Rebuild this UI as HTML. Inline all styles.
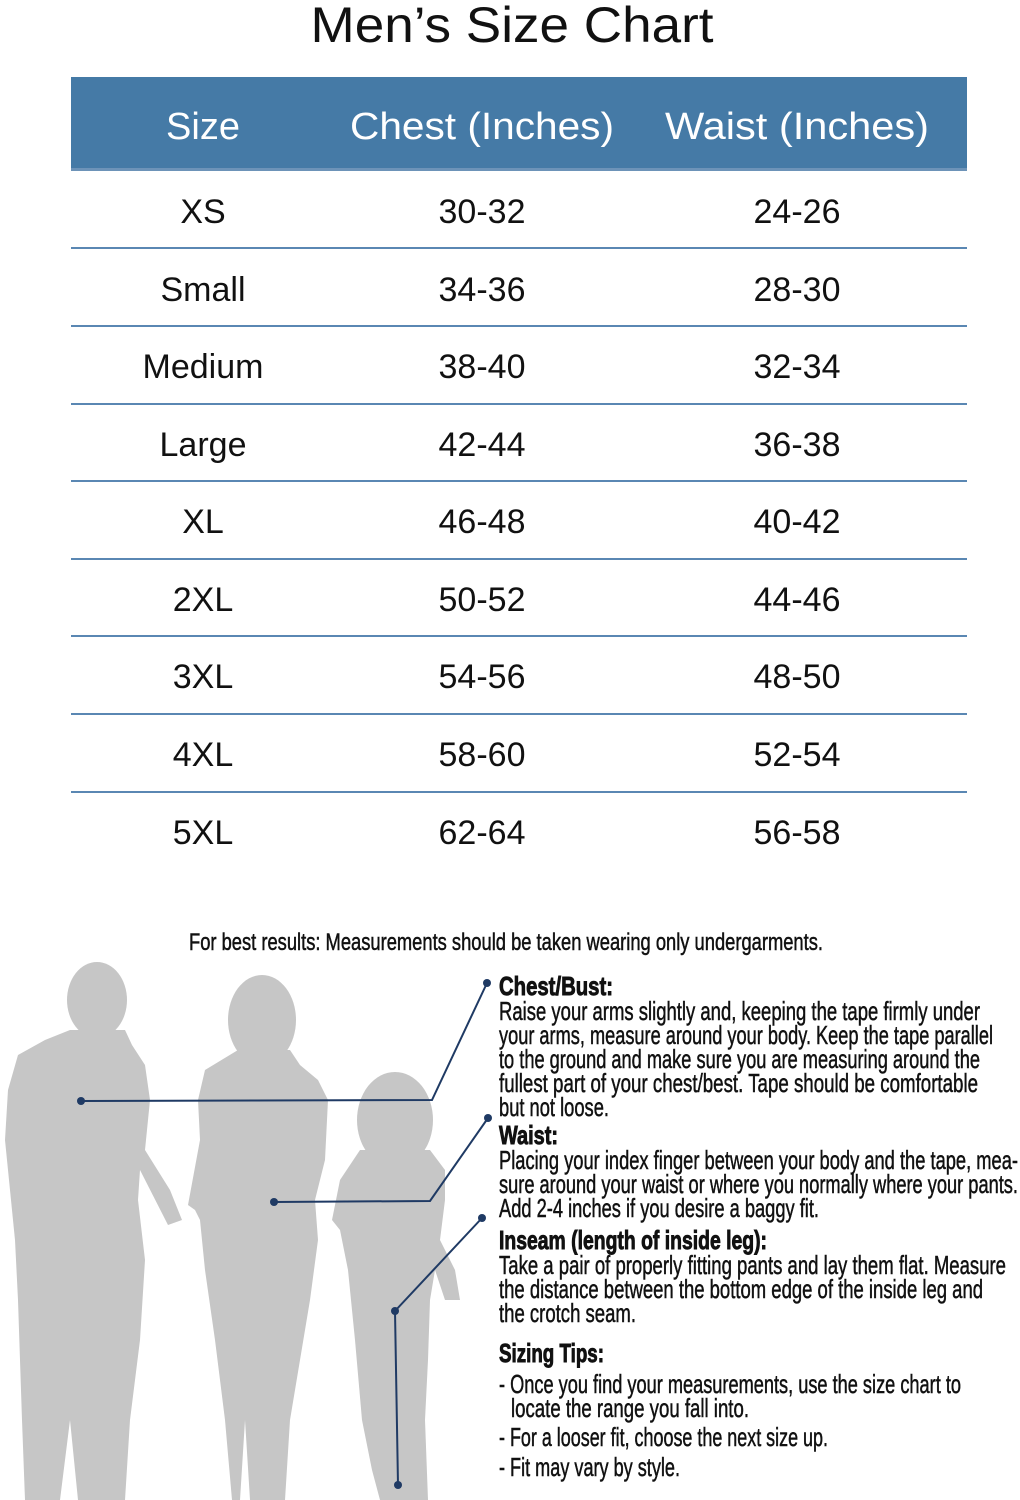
<!DOCTYPE html>
<html><head><meta charset="utf-8"><style>
html,body{margin:0;padding:0;background:#fff;}
svg{display:block}
.t{font-family:"Liberation Sans",sans-serif;fill:#111;font-size:34px;text-anchor:middle}
.h{fill:#fff;font-size:38px}
.n{font-family:"Liberation Sans Narrow","Liberation Sans",sans-serif;fill:#111;font-size:26px;stroke:#111;stroke-width:0.5}
.b{font-weight:bold;stroke-width:0.9}
</style></head><body>
<svg width="1020" height="1500" viewBox="0 0 1020 1500" xmlns="http://www.w3.org/2000/svg">
<text x="512" y="42" class="t" style="font-size:50px" textLength="403" lengthAdjust="spacingAndGlyphs">Men’s Size Chart</text>
<rect x="71" y="77" width="896" height="93" fill="#457aa6"/>
<rect x="71" y="168" width="896" height="3" fill="#6d93b8"/>
<text x="203" y="139" class="t h">Size</text>
<text x="482" y="139" class="t h" textLength="264" lengthAdjust="spacingAndGlyphs">Chest (Inches)</text>
<text x="797" y="139" class="t h" textLength="264" lengthAdjust="spacingAndGlyphs">Waist (Inches)</text>
<g fill="#5a87b3">
<rect x="71" y="247" width="896" height="2"/><rect x="71" y="325" width="896" height="2"/>
<rect x="71" y="403" width="896" height="2"/><rect x="71" y="480" width="896" height="2"/>
<rect x="71" y="558" width="896" height="2"/><rect x="71" y="635" width="896" height="2"/>
<rect x="71" y="713" width="896" height="2"/><rect x="71" y="791" width="896" height="2"/>
</g>
<g class="t">
<text x="203" y="223" class="t">XS</text><text x="482" y="223" class="t">30-32</text><text x="797" y="223" class="t">24-26</text>
<text x="203" y="301" class="t">Small</text><text x="482" y="301" class="t">34-36</text><text x="797" y="301" class="t">28-30</text>
<text x="203" y="378" class="t">Medium</text><text x="482" y="378" class="t">38-40</text><text x="797" y="378" class="t">32-34</text>
<text x="203" y="456" class="t">Large</text><text x="482" y="456" class="t">42-44</text><text x="797" y="456" class="t">36-38</text>
<text x="203" y="533" class="t">XL</text><text x="482" y="533" class="t">46-48</text><text x="797" y="533" class="t">40-42</text>
<text x="203" y="611" class="t">2XL</text><text x="482" y="611" class="t">50-52</text><text x="797" y="611" class="t">44-46</text>
<text x="203" y="688" class="t">3XL</text><text x="482" y="688" class="t">54-56</text><text x="797" y="688" class="t">48-50</text>
<text x="203" y="766" class="t">4XL</text><text x="482" y="766" class="t">58-60</text><text x="797" y="766" class="t">52-54</text>
<text x="203" y="844" class="t">5XL</text><text x="482" y="844" class="t">62-64</text><text x="797" y="844" class="t">56-58</text>
</g>
<g fill="#c6c6c6">
<ellipse cx="97" cy="1000" rx="30" ry="38"/>
<path d="M70 1030 L125 1030 L132 1045 L145 1065 L150 1100 L145 1150 L170 1190 L182 1220 L168 1225 L140 1170 L138 1200 L145 1260 L140 1340 L130 1420 L125 1500 L78 1500 L70 1420 L60 1500 L25 1500 L22 1420 L18 1300 L15 1240 L5 1140 L8 1090 L18 1055 L45 1040 Z"/>
<ellipse cx="262" cy="1020" rx="34" ry="45"/>
<path d="M238 1050 L290 1050 L300 1065 L318 1080 L328 1100 L325 1160 L315 1200 L318 1240 L310 1300 L300 1360 L290 1420 L285 1500 L250 1500 L245 1420 L240 1500 L232 1500 L225 1420 L215 1340 L205 1270 L200 1220 L195 1210 L188 1205 L200 1140 L198 1100 L205 1070 Z"/>
<ellipse cx="395" cy="1120" rx="38" ry="48"/>
<path d="M360 1150 L430 1150 L445 1170 L445 1200 L440 1240 L455 1270 L460 1300 L445 1300 L435 1270 L430 1300 L428 1360 L425 1420 L428 1500 L380 1500 L372 1470 L362 1420 L355 1340 L348 1270 L340 1230 L332 1220 L340 1180 Z"/>
</g>
<g stroke="#1f3a64" stroke-width="2" fill="none">
<polyline points="81,1101 432,1100 487,983"/>
<polyline points="274,1202 430,1201 488,1118"/>
<polyline points="482,1218 395,1311 398,1485"/>
</g>
<g fill="#1f3a64">
<circle cx="81" cy="1101" r="4"/><circle cx="487" cy="983" r="4"/>
<circle cx="274" cy="1202" r="4"/><circle cx="488" cy="1118" r="4"/>
<circle cx="482" cy="1218" r="4"/><circle cx="395" cy="1311" r="4"/><circle cx="398" cy="1485" r="4"/>
</g>
<text x="189" y="950" class="n" style="font-size:24px" textLength="634" lengthAdjust="spacingAndGlyphs">For best results: Measurements should be taken wearing only undergarments.</text>
<text x="499" y="995" class="n b" textLength="114" lengthAdjust="spacingAndGlyphs">Chest/Bust:</text>
<text x="499" y="1020" class="n" textLength="481" lengthAdjust="spacingAndGlyphs">Raise your arms slightly and, keeping the tape firmly under</text>
<text x="499" y="1044" class="n" textLength="494" lengthAdjust="spacingAndGlyphs">your arms, measure around your body. Keep the tape parallel</text>
<text x="499" y="1068" class="n" textLength="481" lengthAdjust="spacingAndGlyphs">to the ground and make sure you are measuring around the</text>
<text x="499" y="1092" class="n" textLength="479" lengthAdjust="spacingAndGlyphs">fullest part of your chest/best. Tape should be comfortable</text>
<text x="499" y="1116" class="n" textLength="110" lengthAdjust="spacingAndGlyphs">but not loose.</text>
<text x="499" y="1144" class="n b" textLength="59" lengthAdjust="spacingAndGlyphs">Waist:</text>
<text x="499" y="1169" class="n" textLength="519" lengthAdjust="spacingAndGlyphs">Placing your index finger between your body and the tape, mea-</text>
<text x="499" y="1193" class="n" textLength="519" lengthAdjust="spacingAndGlyphs">sure around your waist or where you normally where your pants.</text>
<text x="499" y="1217" class="n" textLength="320" lengthAdjust="spacingAndGlyphs">Add 2-4 inches if you desire a baggy fit.</text>
<text x="499" y="1249" class="n b" textLength="268" lengthAdjust="spacingAndGlyphs">Inseam (length of inside leg):</text>
<text x="499" y="1274" class="n" textLength="507" lengthAdjust="spacingAndGlyphs">Take a pair of properly fitting pants and lay them flat. Measure</text>
<text x="499" y="1298" class="n" textLength="484" lengthAdjust="spacingAndGlyphs">the distance between the bottom edge of the inside leg and</text>
<text x="499" y="1322" class="n" textLength="137" lengthAdjust="spacingAndGlyphs">the crotch seam.</text>
<text x="499" y="1362" class="n b" textLength="105" lengthAdjust="spacingAndGlyphs">Sizing Tips:</text>
<text x="499" y="1393" class="n" textLength="462" lengthAdjust="spacingAndGlyphs">- Once you find your measurements, use the size chart to</text>
<text x="511" y="1417" class="n" textLength="238" lengthAdjust="spacingAndGlyphs">locate the range you fall into.</text>
<text x="499" y="1446" class="n" textLength="329" lengthAdjust="spacingAndGlyphs">- For a looser fit, choose the next size up.</text>
<text x="499" y="1476" class="n" textLength="181" lengthAdjust="spacingAndGlyphs">- Fit may vary by style.</text>
</svg>
</body></html>
